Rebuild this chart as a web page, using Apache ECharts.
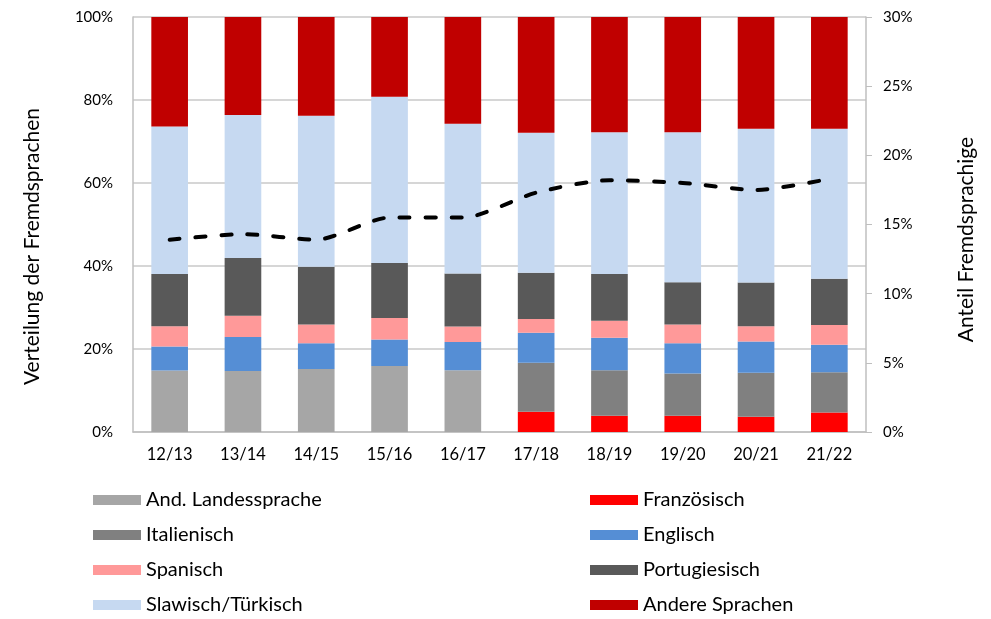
<!DOCTYPE html>
<html>
<head>
<meta charset="utf-8">
<script src="https://cdn.jsdelivr.net/npm/echarts@6/dist/echarts.min.js"></script>
<style>html,body{margin:0;padding:0;background:#fff}#c{width:991px;height:619px}</style>
</head>
<body>
<div id="c"></div>
<script>
const categories = ['12/13','13/14','14/15','15/16','16/17','17/18','18/19','19/20','20/21','21/22'];
const andLandessprache = [14.8,14.7,15.2,15.9,14.9,0,0,0,0,0];
const franzoesisch     = [0,0,0,0,0,4.9,3.9,3.9,3.7,4.7];
const italienisch      = [0,0,0,0,0,11.8,11.0,10.2,10.6,9.7];
const englisch         = [5.8,8.2,6.2,6.4,6.8,7.2,7.8,7.3,7.5,6.6];
const spanisch         = [4.9,5.1,4.5,5.2,3.7,3.3,4.1,4.5,3.7,4.8];
const portugiesisch    = [12.6,13.9,13.9,13.2,12.8,11.2,11.3,10.2,10.5,11.1];
const slawischTuerkisch= [35.5,34.5,36.4,40.1,36.1,33.7,34.1,36.1,37.1,36.2];
const andereSprachen   = [26.4,23.6,23.8,19.2,25.7,27.9,27.8,27.8,26.9,26.9];
const anteilFremdsprachige = [13.9,14.3,13.9,15.5,15.5,17.3,18.2,18.0,17.5,18.3];

const FONT = 'Lato';
const barSeries = [
  ['And. Landessprache', andLandessprache, '#A6A6A6'],
  ['Französisch', franzoesisch, '#FF0000'],
  ['Italienisch', italienisch, '#808080'],
  ['Englisch', englisch, '#558ED5'],
  ['Spanisch', spanisch, '#FF9999'],
  ['Portugiesisch', portugiesisch, '#595959'],
  ['Slawisch/Türkisch', slawischTuerkisch, '#C6D9F1'],
  ['Andere Sprachen', andereSprachen, '#C00000']
].map(([name, data, color]) => ({
  name, type: 'bar', stack: 'total', data, barWidth: '50%',
  itemStyle: { color },
  emphasis: { disabled: true }
}));

const legendCommon = {
  orient: 'vertical', icon: 'rect', itemWidth: 48, itemHeight: 10, itemGap: 15,
  padding: 0, height: 128,
  textStyle: { fontFamily: FONT, fontSize: 20, color: '#000', lineHeight: 20 },
  selectedMode: false
};

const chart = echarts.init(document.getElementById('c'), null, { renderer: 'canvas' });
chart.setOption({
  animation: false,
  textStyle: { fontFamily: FONT },
  grid: { left: 133, right: 125, top: 17, bottom: 187 },
  legend: [
    Object.assign({ left: 93, top: 490, data: ['And. Landessprache','Italienisch','Spanisch','Slawisch/Türkisch'] }, legendCommon),
    Object.assign({ left: 590, top: 490, data: ['Französisch','Englisch','Portugiesisch','Andere Sprachen'] }, legendCommon)
  ],
  xAxis: {
    type: 'category', data: categories,
    axisTick: { show: false },
    axisLine: { lineStyle: { color: '#BFBFBF', width: 1.5 } },
    axisLabel: { fontFamily: FONT, fontSize: 16.5, color: '#000', margin: 14 }
  },
  yAxis: [
    {
      type: 'value', min: 0, max: 100, interval: 20,
      name: 'Verteilung der Fremdsprachen', nameLocation: 'middle', nameGap: 90,
      nameTextStyle: { fontFamily: FONT, fontSize: 21, color: '#000', padding: [0, 44, 0, 0] },
      axisLine: { show: true, lineStyle: { color: '#BFBFBF', width: 1.5 } },
      axisTick: { show: false },
      splitLine: { lineStyle: { color: '#C8C8C8', width: 1.5 } },
      axisLabel: { formatter: '{value}%', fontFamily: FONT, fontSize: 15, color: '#000', margin: 20 }
    },
    {
      type: 'value', min: 0, max: 30, interval: 5, position: 'right',
      name: 'Anteil Fremdsprachige', nameLocation: 'middle', nameGap: 90,
      nameTextStyle: { fontFamily: FONT, fontSize: 21, color: '#000', padding: [0, 30, 0, 0] },
      axisLine: { show: true, lineStyle: { color: '#BFBFBF', width: 1.5 } },
      axisTick: { show: true, length: 6, lineStyle: { color: '#BFBFBF' } },
      splitLine: { show: false },
      axisLabel: { formatter: '{value}%', fontFamily: FONT, fontSize: 15, color: '#000', margin: 17 }
    }
  ],
  series: barSeries.concat([{
    name: 'Anteil Fremdsprachige', type: 'line', yAxisIndex: 1,
    data: anteilFremdsprachige, smooth: 0.25, symbol: 'none',
    lineStyle: { color: '#000', width: 4, type: [10, 16], cap: 'round' },
    emphasis: { disabled: true }, z: 10
  }])
});
</script>
</body>
</html>
